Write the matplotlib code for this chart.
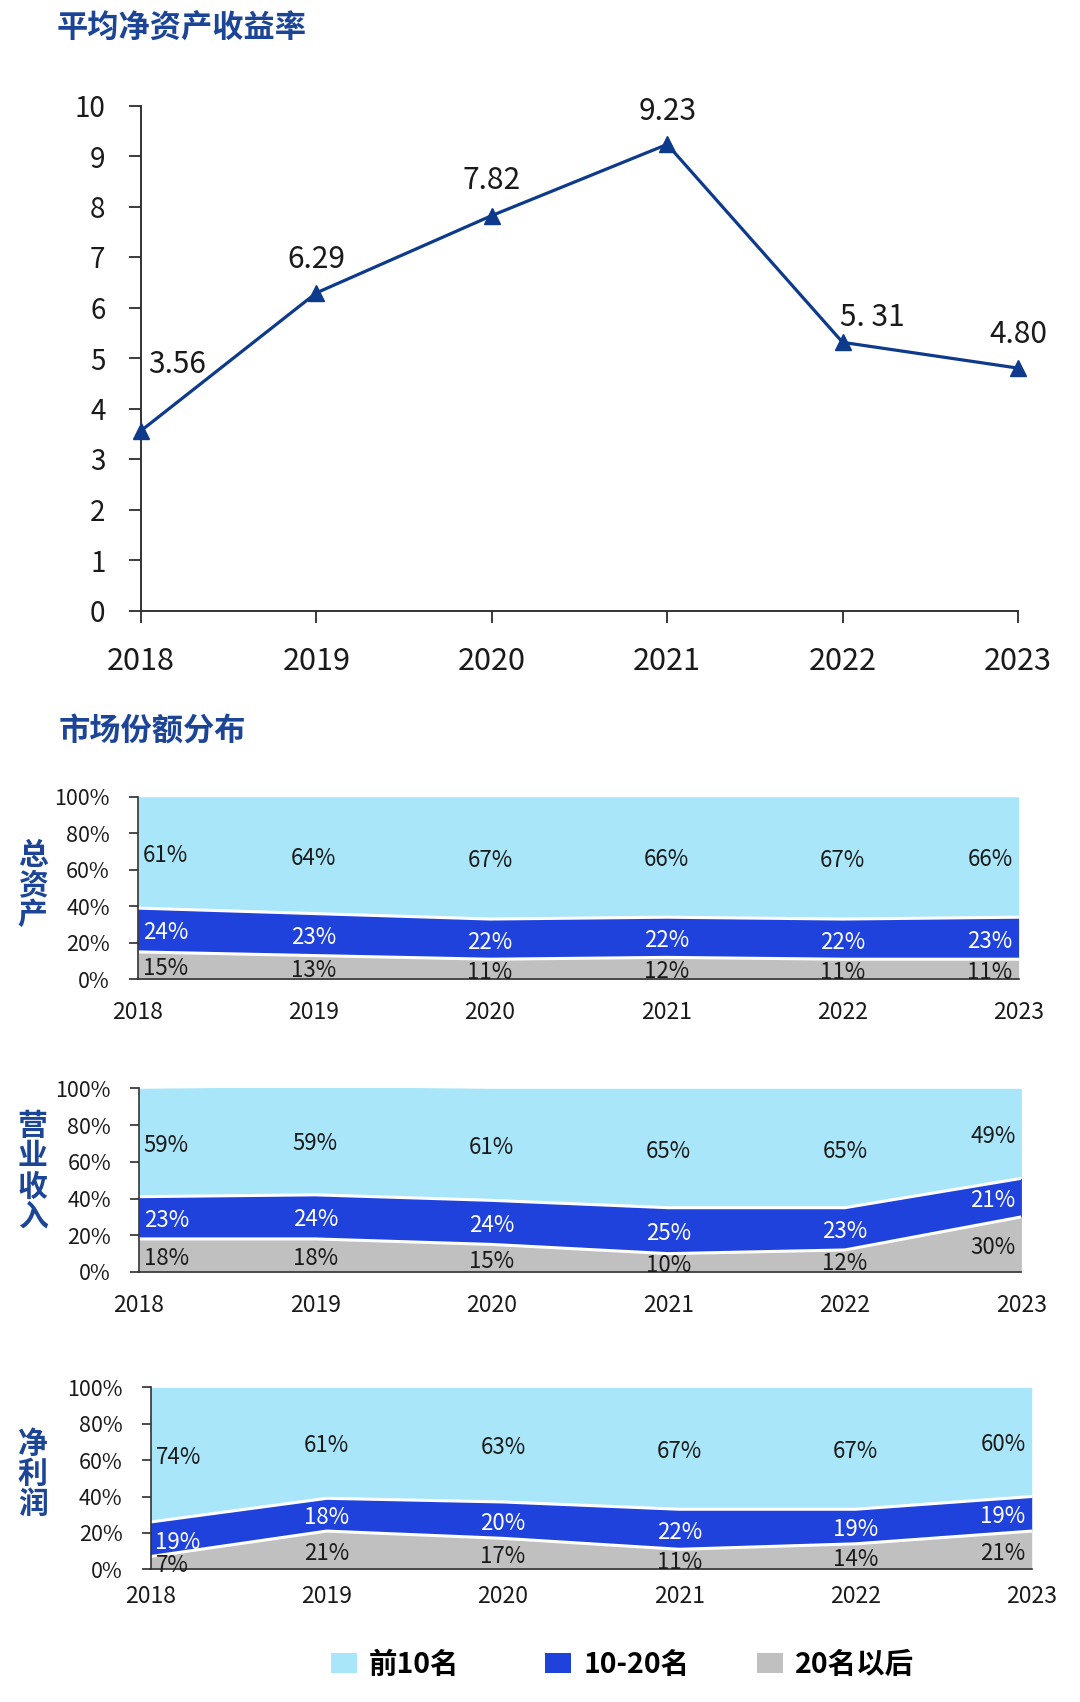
import matplotlib
matplotlib.use('Agg')
import matplotlib.pyplot as plt
from matplotlib.patches import Patch

plt.rcParams['font.family'] = ['Noto Sans CJK SC', 'DejaVu Sans']

# ---------------- data ----------------
years = [2018, 2019, 2020, 2021, 2022, 2023]
roe = [3.56, 6.29, 7.82, 9.23, 5.31, 4.80]
roe_labels = ['3.56', '6.29', '7.82', '9.23', '5. 31', '4.80']

panel_names = ['总资产', '营业收入', '净利润']
series_names = ['前10名', '10-20名', '20名以后']

assets_top10 = [61, 64, 67, 66, 67, 66]
assets_mid = [24, 23, 22, 22, 22, 23]
assets_rest = [15, 13, 11, 12, 11, 11]

revenue_top10 = [59, 59, 61, 65, 65, 49]
revenue_mid = [23, 24, 24, 25, 23, 21]
revenue_rest = [18, 18, 15, 10, 12, 30]

profit_top10 = [74, 61, 63, 67, 67, 60]
profit_mid = [19, 18, 20, 22, 19, 19]
profit_rest = [7, 21, 17, 11, 14, 21]

pct_ticks = [0, 20, 40, 60, 80, 100]
roe_ticks = list(range(0, 11))

# ---------------- style ----------------
W, H = 1080, 1702
TITLE_BLUE = '#1c4597'
LINE_BLUE = '#0d3a8a'
C_TOP = '#aae6f9'
C_MID = '#1f42dd'
C_REST = '#c0c0c0'
TXT = '#1a1a1a'
SPINE = '#333333'
PX = 0.72  # points per pixel at dpi 100

fig = plt.figure(figsize=(W / 100, H / 100), dpi=100)


def rect(left, right, top, bottom):
    return [left / W, 1 - bottom / H, (right - left) / W, (bottom - top) / H]


# ---------------- top line chart ----------------
ax = fig.add_axes(rect(141, 1018, 105.5, 610.5))
ax.plot(years, roe, color=LINE_BLUE, lw=2.3, marker='^', ms=12,
        markerfacecolor=LINE_BLUE, markeredgecolor=LINE_BLUE, clip_on=False, zorder=3)
ax.set_xlim(years[0], years[-1])
ax.set_ylim(0, 10)
ax.set_xticks(years)
ax.set_yticks(roe_ticks)
ax.tick_params(axis='x', length=8.6, width=1.2, pad=17, labelsize=22, colors=TXT)
ax.tick_params(axis='y', length=8.6, width=1.2, pad=17, labelsize=20, colors=TXT)
for s in ['top', 'right']:
    ax.spines[s].set_visible(False)
for s in ['left', 'bottom']:
    ax.spines[s].set_color(SPINE)
    ax.spines[s].set_linewidth(1.4)

roe_offsets = [(36, 66), (0, 33), (0, 35), (0, 33), (30, 25), (0, 34)]
for x, y, lab, (dx, dy) in zip(years, roe, roe_labels, roe_offsets):
    ax.annotate(lab, xy=(x, y), xytext=(dx * PX, dy * PX), textcoords='offset points',
                ha='center', va='center', fontsize=21.5, color=TXT, annotation_clip=False)

fig.text(57 / W, 1 - 29 / H, '平均净资产收益率', ha='left', va='center',
         fontsize=22.5, fontweight='bold', color=TITLE_BLUE)
fig.text(58.5 / W, 1 - 732 / H, '市场份额分布', ha='left', va='center',
         fontsize=22.5, fontweight='bold', color=TITLE_BLUE)

# ---------------- stacked area panels ----------------
panels = [
    (panel_names[0], assets_rest, assets_mid, assets_top10, rect(137.7, 1018.6, 796.7, 979.3), 885, 15.5),
    (panel_names[1], revenue_rest, revenue_mid, revenue_top10, rect(138.8, 1021.4, 1088.3, 1272), 1171.5, 15.5),
    (panel_names[2], profit_rest, profit_mid, profit_top10, rect(150.5, 1031.7, 1387.3, 1569.3), 1474, 11.5),
]

for name, rest, mid, top, r, ylab, xpad in panels:
    a = fig.add_axes(r)
    b1 = rest
    b2 = [p + q for p, q in zip(rest, mid)]
    b3 = [p + q for p, q in zip(b2, top)]
    a.fill_between(years, 0, b1, color=C_REST, lw=0)
    a.fill_between(years, b1, b2, color=C_MID, lw=0)
    a.fill_between(years, b2, b3, color=C_TOP, lw=0)
    a.plot(years, b1, color='white', lw=2.2)
    a.plot(years, b2, color='white', lw=2.2)
    a.set_xlim(years[0], years[-1])
    a.set_ylim(0, 100)
    a.set_xticks(years)
    a.set_yticks(pct_ticks)
    a.set_yticklabels([f'{t}%' for t in pct_ticks])
    a.tick_params(axis='x', length=0, pad=xpad, labelsize=16.5, colors=TXT)
    a.tick_params(axis='y', length=6.5, width=1.1, pad=13.5, labelsize=15.5, colors=TXT)
    for s in ['top', 'right']:
        a.spines[s].set_visible(False)
    for s in ['left', 'bottom']:
        a.spines[s].set_color(SPINE)
        a.spines[s].set_linewidth(1.2)
        a.spines[s].set_zorder(5)

    n = len(years)
    for vals, base, col in [(rest, [0] * n, TXT), (mid, b1, 'white'), (top, b2, TXT)]:
        for i, x in enumerate(years):
            yc = base[i] + vals[i] / 2
            if i == 0:
                ha, dx = 'left', 5
            elif i == n - 1:
                ha, dx = 'right', -6
            else:
                ha, dx = 'center', 0
            a.annotate(f'{vals[i]}%', xy=(x, yc), xytext=(dx * PX, -3 * PX), textcoords='offset points',
                       ha=ha, va='center', fontsize=16, color=col, zorder=6,
                       annotation_clip=False)

    fig.text(32.7 / W, 1 - ylab / H, '\n'.join(name), ha='center', va='center',
             fontsize=21.5, fontweight='bold', color=TITLE_BLUE, linespacing=1.0)

# ---------------- legend (three entries, placed individually) ----------------
legend_x = [330.6, 545, 757]
for name, col, lx in zip(series_names, [C_TOP, C_MID, C_REST], legend_x):
    lg = fig.legend([Patch(facecolor=col, edgecolor='none')], [name], loc='center left',
                    bbox_to_anchor=(lx / W, 1 - 1665 / H), frameon=False, borderpad=0,
                    borderaxespad=0, handlelength=0.93, handleheight=0.7, handletextpad=0.42,
                    prop={'size': 20.5, 'weight': 'bold'})

fig.savefig('out.png', dpi=100)
